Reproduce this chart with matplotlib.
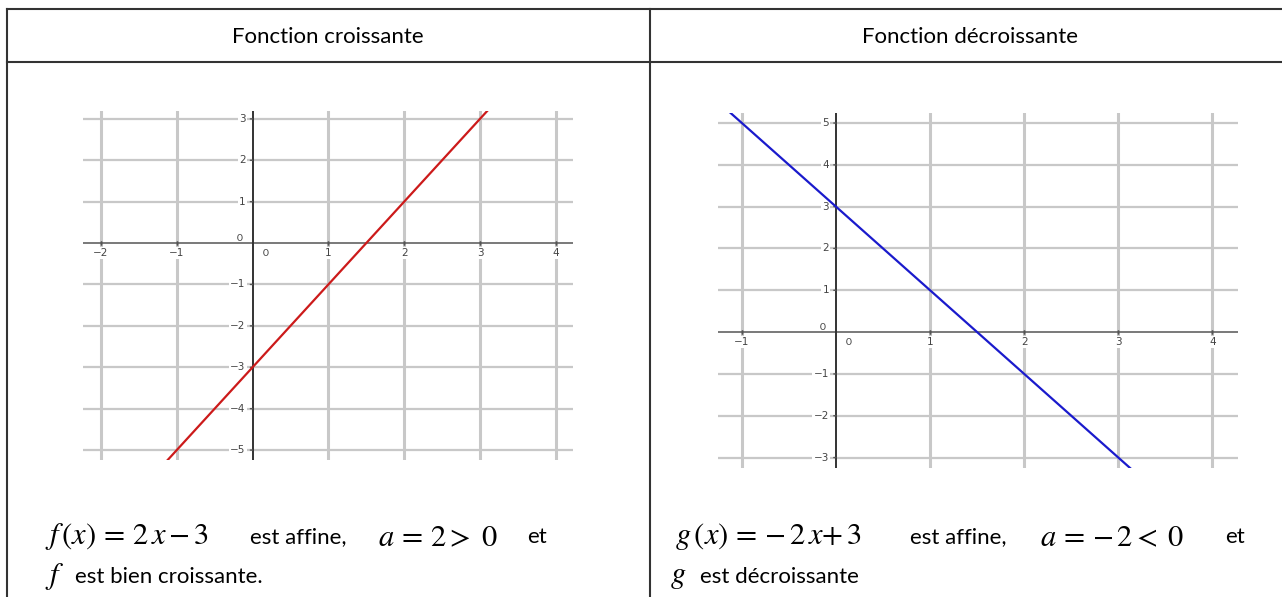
import matplotlib
matplotlib.use('AGG')
import matplotlib.pyplot as plt
from matplotlib.lines import Line2D

plt.rcParams['font.family'] = ['Lato', 'DejaVu Sans']
plt.rcParams['mathtext.fontset'] = 'stix'

# data
headers = ['Fonction croissante', 'Fonction décroissante']

f_x = [-1.5, 3.5]
f_y = [-6, 4]
f_xticks = [-2, -1, 1, 2, 3, 4]
f_yticks = [-5, -4, -3, -2, -1, 1, 2, 3]

g_x = [-1.5, 3.5]
g_y = [6, -4]
g_xticks = [-1, 1, 2, 3, 4]
g_yticks = [-3, -2, -1, 1, 2, 3, 4, 5]

W, H = 1282, 597
fig = plt.figure(figsize=(W / 100, H / 100), dpi=100)


def px_line(x0, y0, x1, y1):
    # line in figure pixels (y from top)
    fig.add_artist(Line2D([x0 / W, x1 / W], [1 - y0 / H, 1 - y1 / H],
                          color='#333333', lw=1.5))


# table frame
px_line(7, 9, W, 9)
px_line(7, 62, W, 62)
px_line(7, 9, 7, H)
px_line(650, 9, 650, H)

fig.text(328 / W, 1 - 37 / H, headers[0], ha='center', va='center', fontsize=16)
fig.text(970 / W, 1 - 37 / H, headers[1], ha='center', va='center', fontsize=16)


def graph(box, xlim, ylim, xs, ys, xticks, yticks, color):
    l, t, r, b = box
    ax = fig.add_axes([l / W, 1 - b / H, (r - l) / W, (b - t) / H])
    ax.set_xlim(*xlim)
    ax.set_ylim(*ylim)
    ax.axis('off')
    for x in xticks:
        ax.axvline(x, color='#c8c8c8', lw=2.2, zorder=1)
    for y in yticks:
        ax.axhline(y, color='#c8c8c8', lw=1.6, zorder=1)
    ax.axhline(0, color='#555555', lw=1.1, zorder=3)
    ax.axvline(0, color='#333333', lw=1.4, zorder=3)
    bb = dict(facecolor='white', edgecolor='none', pad=1.0)
    for x in xticks:
        ax.plot([x, x], [0, 0], marker='|', ms=3, color='#555555', zorder=4)
        ax.annotate(f'{x}'.replace('-', '\u2212'), (x, 0), xytext=(0, -10),
                    textcoords='offset pixels', ha='center', va='center',
                    fontsize=7.5, color='#444444', family='DejaVu Sans',
                    bbox=bb, zorder=2)
    for y in yticks:
        ax.annotate(f'{y}'.replace('-', '\u2212'), (0, y), xytext=(-7, 0),
                    textcoords='offset pixels', ha='right', va='center',
                    fontsize=7.5, color='#444444', family='DejaVu Sans',
                    bbox=bb, zorder=2)
        ax.annotate('', (0, y), xytext=(-5, 0), textcoords='offset pixels',
                    arrowprops=dict(arrowstyle='-', color='#555555', lw=1))
    ax.annotate('0', (0, 0), xytext=(-13, 5), textcoords='offset pixels',
                ha='center', va='center', fontsize=7.5, color='#444444')
    ax.annotate('0', (0, 0), xytext=(13, -10), textcoords='offset pixels',
                ha='center', va='center', fontsize=7.5, color='#444444')
    ax.plot(xs, ys, color=color, lw=1.6, zorder=5)
    return ax


graph((83, 111, 573, 460), (-2.237, 4.227), (-5.24, 3.19),
      f_x, f_y, f_xticks, f_yticks, '#cc1a1a')
graph((718, 113, 1238, 468), (-1.254, 4.272), (-3.25, 5.24),
      g_x, g_y, g_xticks, g_yticks, '#1a1acc')

# bottom texts
ms = 22
ts = 16
y1 = 1 - 537 / H
y2 = 1 - 577 / H
fig.text(45 / W, y1, r'$f\,(x)\,{=}\,2\,x\,{-}\,3$', fontsize=ms, va='center')
fig.text(250 / W, y1, 'est affine,', fontsize=ts, va='center')
fig.text(378 / W, y1, r'$a\,{=}\,2{>}\;0$', fontsize=ms, va='center')
fig.text(527 / W, y1, 'et', fontsize=ts, va='center')
fig.text(45 / W, y2, r'$f$', fontsize=ms, va='center')
fig.text(75 / W, y2, 'est bien croissante.', fontsize=ts, va='center')

fig.text(675 / W, y1, r'$g\,(x)\,{=}\,{-}\,2\,x{+}\,3$', fontsize=ms, va='center')
fig.text(910 / W, y1, 'est affine,', fontsize=ts, va='center')
fig.text(1040 / W, y1, r'$a\,{=}\,{-}\,2{<}\;0$', fontsize=ms, va='center')
fig.text(1225 / W, y1, 'et', fontsize=ts, va='center')
fig.text(670 / W, y2, r'$g$', fontsize=ms, va='center')
fig.text(700 / W, y2, 'est décroissante', fontsize=ts, va='center')

fig.savefig('out.png', dpi=100, facecolor='white')
